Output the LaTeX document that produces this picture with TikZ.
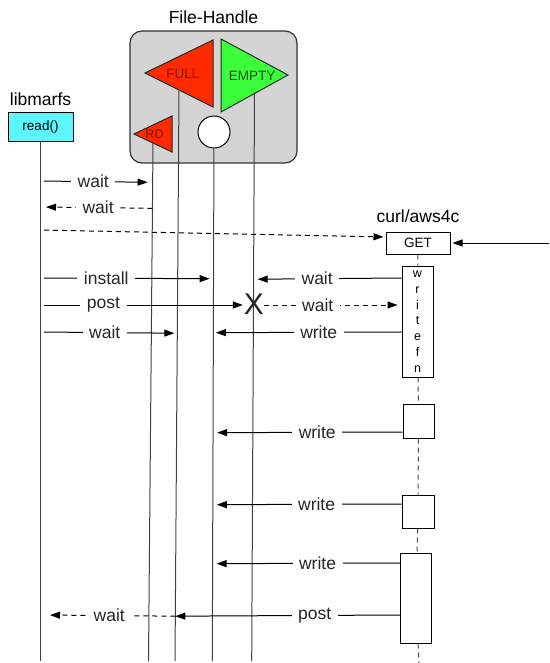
\documentclass[tikz,border=0pt]{standalone}
\usepackage{fontspec}
\setmainfont{Liberation Sans}
\usetikzlibrary{arrows.meta, positioning, calc}
\definecolor{fhgray}{HTML}{D4D4D4}
\definecolor{fullred}{HTML}{FF2A00}
\definecolor{fulltxt}{HTML}{801200}
\definecolor{emptygreen}{HTML}{3CFF3C}
\definecolor{emptytxt}{HTML}{174A17}
\definecolor{readcyan}{HTML}{5CF6FF}
\tikzstyle{arrow} = [line width=1pt, -{Triangle[length=10pt, width=7pt]}]

\begin{document}
\begin{tikzpicture}[
  x=1pt, y=-1pt,
  font=\fontsize{17.5}{20}\selectfont,
  msg/.style={arrow, shorten <=3.5pt, shorten >=4pt},
  reply/.style={msg, dash pattern=on 5pt off 4pt},
  lbl/.style={fill=white, inner xsep=6.5pt, inner ysep=1pt, text=black!85},
  life/.style={draw=black!75, line width=1pt},
  curllife/.style={draw=black!70, line width=1pt, dash pattern=on 5pt off 4pt},
  box/.style={draw, line width=1pt, fill=white, minimum width=31pt, inner sep=0pt},
  tri/.style={draw=black!85, line width=1pt},
  small/.style={font=\fontsize{13.5}{16}\selectfont}
]
\useasboundingbox (0,0) rectangle (549,663);

% File handle with its flags
\node[draw=black!80, line width=1.2pt, fill=fhgray, rounded corners=12pt,
      minimum width=167pt, minimum height=132pt] (fh) at (213.5,97) {};
\node[above=3pt of fh] (fhTitle) {File-Handle};

\coordinate (fullTip) at (145,73);
\coordinate (fullTop) at (213,40);
\coordinate (fullBot) at (213,107);
\filldraw[tri, fill=fullred] (fullTip) -- (fullTop) -- (fullBot) -- cycle;
\node[small, text=fulltxt] (full) at (183,74) {FULL};

\coordinate (emptyTop) at (221,39);
\coordinate (emptyBot) at (221,112);
\coordinate (emptyTip) at (288,75);
\filldraw[tri, fill=emptygreen] (emptyTop) -- (emptyTip) -- (emptyBot) -- cycle;
\node[small, text=emptytxt] (empty) at (252,76) {EMPTY};

\coordinate (rdTip) at (134,134);
\coordinate (rdTop) at (172,116);
\coordinate (rdBot) at (172,152);
\filldraw[tri, fill=fullred] (rdTip) -- (rdTop) -- (rdBot) -- cycle;
\node[font=\fontsize{12.5}{14}\selectfont, text=fulltxt] (rd) at (154.5,134) {RD};

\node[draw, circle, fill=white, line width=1pt, minimum size=32pt, inner sep=0pt] (circ) at (214,132) {};

% libmarfs
\node[draw, line width=1pt, fill=readcyan, small, minimum width=65pt, minimum height=29pt] (read) at (40.5,127.5) {read()};
\node[above=3pt of read] (lib) {libmarfs};

% curl/aws4c
\node[draw, line width=1pt, small, minimum width=64pt, minimum height=22pt, inner sep=0pt] (get) at (418,243) {GET};
\node[above=5pt of get] (curl) {curl/aws4c};
\node[box, minimum height=111pt, align=center, font=\fontsize{12.5}{15.8}\selectfont] (wfn) at (417.5,321.5) {w\\r\\i\\t\\e\\f\\n};
\node[box, minimum height=34pt] (a2) at (418.5,421) {};
\node[box, minimum width=32pt, minimum height=33pt] (a3) at (418,511.5) {};
\node[box, minimum height=90pt] (a4) at (416,598) {};

% Lifelines
\coordinate (libEnd) at (40.5,661);
\coordinate (rdS) at ($(rdTip)!0.5!(rdBot)$);
\coordinate (rdEnd) at (148.5,661);
\coordinate (fullS) at ($(fullTip)!0.5!(fullBot)$);
\coordinate (fullEnd) at (175,661);
\coordinate (circEnd) at (212.3,661);
\coordinate (emptyS) at ($(emptyTip)!0.5!(emptyBot)$);
\coordinate (emptyEnd) at (251.7,661);
\coordinate (curlEnd) at (419,663);
\coordinate (ext) at (549,243);

\draw[life] (read) -- (libEnd);
\draw[life] (rdS) -- (rdEnd);
\draw[life] (fullS) -- (fullEnd);
\draw[life] (circ) -- (circEnd);
\draw[life] (emptyS) -- (emptyEnd);

\draw[curllife] (get) -- (wfn);
\draw[curllife] (wfn) -- (a2);
\draw[curllife] (a2) -- (a3);
\draw[curllife] (a3) -- (a4);
\draw[curllife] (a4) -- (curlEnd);

% Message rows
\coordinate (r1) at (0,181);
\coordinate (r2) at (0,207);
\coordinate (r3) at (0,230);
\coordinate (r4) at (0,278);
\coordinate (r5) at (0,305);
\coordinate (r6) at (0,332);
\coordinate (r7) at (0,432);
\coordinate (r8) at (0,504);
\coordinate (r9) at (0,563);
\coordinate (r10) at (0,615);

\node[font=\fontsize{30}{30}\selectfont, inner sep=0pt, text=black!85] (xmark) at (254,304) {X};

% Messages
\draw[msg, shorten >=5pt] ($(read.south)!(r1)!(libEnd)$) -- node[lbl, pos=0.47] {wait} ($(rdS)!(r1)!(rdEnd)$);
\draw[reply, shorten <=0pt, shorten >=5.5pt] ($(rdS)!(r2)!(rdEnd)$) -- node[lbl, pos=0.485] {wait} ($(read.south)!(r2)!(libEnd)$);
\draw[reply, shorten >=2pt] ($(read.south)!(r3)!(libEnd)$) -- ([yshift=6pt]get.west);
\draw[arrow, shorten >=2pt] (ext) -- (get);

\draw[msg] ($(read.south)!(r4)!(libEnd)$) -- node[lbl, pos=0.38] {install} ($(circ.south)!(r4)!(circEnd)$);
\draw[msg, shorten <=0pt] (wfn.west |- r4) -- node[lbl, pos=0.57] {wait} ($(emptyS)!(r4)!(emptyEnd)$);

\draw[msg, shorten >=1pt] ($(read.south)!(r5)!(libEnd)$) -- node[lbl, pos=0.31] {post} (xmark.west |- r5);
\draw[reply, shorten <=0pt] (xmark.east |- r5) -- node[lbl, pos=0.39] {wait} (wfn.west |- r5);

\draw[msg, shorten >=3pt] ($(read.south)!(r6)!(libEnd)$) -- node[lbl, pos=0.47] {wait} ($(fullS)!(r6)!(fullEnd)$);
\draw[msg, shorten <=0pt, shorten >=2.5pt] (wfn.west |- r6) -- node[lbl, pos=0.44] {write} ($(circ.south)!(r6)!(circEnd)$);

\draw[msg, shorten <=0pt] (a2.west |- r7) -- node[lbl, pos=0.45] {write} ($(circ.south)!(r7)!(circEnd)$);
\draw[msg, shorten <=0pt] (a3.west |- r8) -- node[lbl, pos=0.45] {write} ($(circ.south)!(r8)!(circEnd)$);
\draw[msg, shorten <=0pt] (a4.west |- r9) -- node[lbl, pos=0.44] {write} ($(circ.south)!(r9)!(circEnd)$);

\draw[msg, shorten <=0pt, shorten >=0pt] (a4.west |- r10) -- node[lbl, pos=0.38] {post} ($(fullS)!(r10)!(fullEnd)$);
\draw[reply, shorten <=0pt, shorten >=9.5pt] ($(fullS)!(r10)!(fullEnd)$) -- node[lbl, pos=0.49] {wait} ($(read.south)!(r10)!(libEnd)$);

\end{tikzpicture}
\end{document}
